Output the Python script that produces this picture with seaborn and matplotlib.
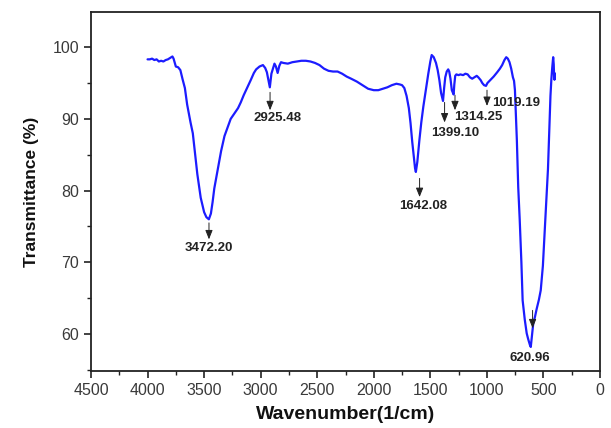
import matplotlib
matplotlib.use("Agg")
import matplotlib.pyplot as plt
from matplotlib.ticker import MultipleLocator
import seaborn as sns
import pandas as pd

# ---------------- data ----------------
wavenumber = [4000, 3980, 3960, 3940, 3920, 3900, 3880, 3860, 3840, 3820, 3800, 3780, 3770,
              3750, 3730, 3710, 3690, 3670, 3650, 3620, 3600, 3580, 3560, 3530, 3500, 3480,
              3458, 3440, 3425, 3410, 3395, 3380, 3350, 3320, 3290, 3265, 3230, 3200, 3176,
              3150, 3120, 3088, 3060, 3040, 3010, 2980, 2960, 2945, 2919, 2905, 2892, 2878,
              2865, 2850, 2835, 2820, 2800, 2760, 2720, 2680, 2640, 2600, 2560, 2520, 2480,
              2440, 2400, 2360, 2320, 2280, 2240, 2200, 2150, 2100, 2050, 2000, 1960, 1920,
              1880, 1840, 1800, 1770, 1750, 1730, 1710, 1690, 1675, 1660, 1645, 1635, 1628,
              1615, 1597, 1580, 1562, 1540, 1518, 1500, 1488, 1470, 1450, 1435, 1420, 1405,
              1388, 1378, 1368, 1355, 1342, 1333, 1322, 1310, 1294, 1288, 1280, 1270, 1250,
              1235, 1210, 1190, 1170, 1150, 1130, 1110, 1090, 1076, 1055, 1041, 1025, 1008,
              995, 970, 940, 909, 885, 865, 845, 829, 815, 800, 785, 770, 760, 752, 745, 735,
              723, 710, 695, 684, 665, 648, 635, 620, 612, 600, 590, 575, 560, 540, 524, 505,
              490, 475, 460, 448, 438, 430, 422, 414, 409, 405, 402, 400]
transmittance = [98.3, 98.3, 98.4, 98.2, 98.3, 98.0, 98.1, 98.0, 98.2, 98.3, 98.5, 98.7, 98.4,
                 97.3, 97.2, 96.8, 95.5, 94.3, 92.0, 89.5, 88.0, 85.2, 82.3, 79.0, 77.0, 76.3,
                 76.0, 76.8, 78.4, 80.3, 81.6, 82.9, 85.5, 87.6, 88.9, 90.0, 90.8, 91.5, 92.3,
                 93.3, 94.3, 95.4, 96.4, 96.9, 97.3, 97.5, 97.1, 96.5, 94.4, 96.3, 97.0, 97.7,
                 97.3, 96.4, 97.4, 97.9, 97.8, 97.7, 97.9, 98.0, 98.1, 98.1, 98.0, 97.8, 97.5,
                 97.0, 96.7, 96.6, 96.6, 96.3, 95.9, 95.6, 95.2, 94.7, 94.2, 94.0, 94.0, 94.2,
                 94.4, 94.7, 94.9, 94.8, 94.7, 94.3, 93.2, 91.5, 89.4, 86.8, 84.5, 83.1, 82.6,
                 84.0, 87.0, 89.5, 91.7, 94.0, 96.3, 98.0, 98.9, 98.6, 97.8, 96.8, 95.4, 93.6,
                 92.5, 94.3, 95.8, 96.6, 96.9, 96.6, 95.6, 94.0, 93.4, 94.8, 96.0, 96.2, 96.1,
                 96.2, 96.1, 96.3, 96.2, 95.8, 95.6, 95.8, 96.0, 95.8, 95.4, 95.0, 94.7, 94.6,
                 95.0, 95.4, 95.9, 96.5, 97.0, 97.5, 98.2, 98.6, 98.4, 97.9, 97.0, 95.8, 95.3,
                 94.0, 91.0, 87.0, 80.5, 76.0, 70.0, 64.7, 62.0, 60.1, 59.3, 58.5, 58.2, 60.0,
                 61.5, 62.4, 63.5, 64.8, 66.1, 69.5, 74.0, 78.3, 83.0, 88.6, 93.2, 95.5, 97.2,
                 98.6, 97.6, 95.5, 96.4, 95.5]

peak_labels = ["3472.20", "2925.48", "1642.08", "1399.10", "1314.25", "1019.19", "620.96"]
arrow_x = [3457, 2917, 1595, 1374, 1282, 999, 596]
arrow_top = [75.5, 93.7, 81.7, 92.3, 93.3, 94.0, 63.3]
arrow_bottom = [73.2, 91.2, 79.1, 89.5, 91.2, 91.8, 60.8]
label_x = [3457, 2847, 1561, 1282, 1079, 743, 619]
label_y = [72.0, 90.1, 77.8, 88.0, 90.2, 92.2, 56.7]

x_ticks = [4500, 4000, 3500, 3000, 2500, 2000, 1500, 1000, 500, 0]
y_ticks = [60, 70, 80, 90, 100]

# ---------------- style ----------------
sns.set_style("ticks")
plt.rcParams["font.family"] = ["Liberation Sans", "DejaVu Sans"]

df = pd.DataFrame({"wn": wavenumber, "T": transmittance})

fig = plt.figure(figsize=(6.11, 4.28), dpi=100)
ax = fig.add_axes([91 / 611, 1 - 371 / 428, 509 / 611, 359 / 428])

sns.lineplot(data=df, x="wn", y="T", sort=False, estimator=None,
             color="#1c1cff", linewidth=1.6, ax=ax)

for lab, ax_, y0, y1, lx, ly in zip(peak_labels, arrow_x, arrow_top, arrow_bottom,
                                    label_x, label_y):
    ax.annotate("", xy=(ax_, y1), xytext=(ax_, y0),
                arrowprops=dict(arrowstyle="-|>,head_length=0.55,head_width=0.22",
                                color="#222222", lw=0.7, shrinkA=0, shrinkB=0))
    ax.text(lx, ly, lab, ha="center", va="center", fontsize=9.5,
            fontweight="bold", color="#222222")

ax.set_xlim(4500, 0)
ax.set_ylim(54.85, 104.9)
ax.set_xticks(x_ticks)
ax.set_yticks(y_ticks)
ax.xaxis.set_minor_locator(MultipleLocator(250))
ax.yaxis.set_minor_locator(MultipleLocator(5))

ax.tick_params(which="major", direction="out", length=5, width=1.2,
               labelsize=11.5, labelcolor="#3a3a3a", color="#222222")
ax.tick_params(which="minor", direction="out", length=3, width=1.0, color="#222222")
ax.tick_params(top=False, right=False, which="both")

for s in ax.spines.values():
    s.set_linewidth(1.3)
    s.set_color("#222222")
    s.set_visible(True)

ax.set_xlabel("Wavenumber(1/cm)", fontsize=14, fontweight="bold", color="#111111",
              labelpad=6)
ax.set_ylabel("Transmittance (%)", fontsize=12.5, fontweight="bold", color="#111111",
              labelpad=10)

fig.savefig("out.png", dpi=100)
